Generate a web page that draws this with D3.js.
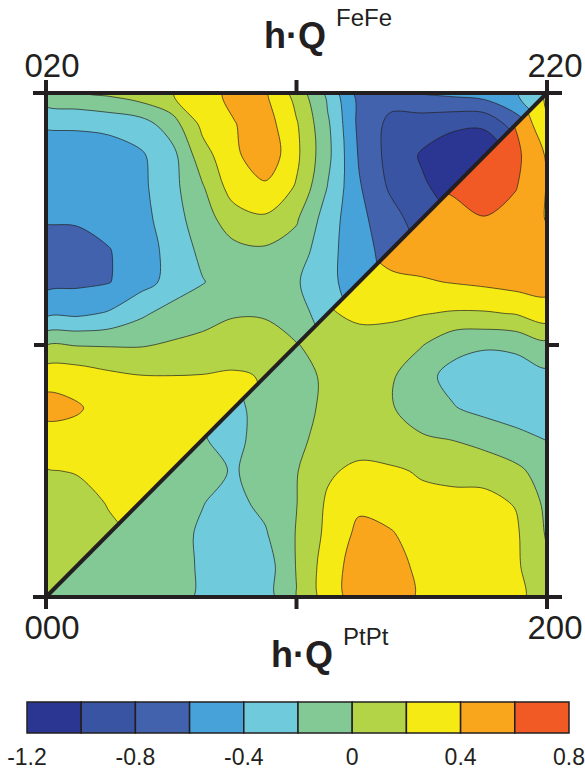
<!DOCTYPE html>
<html>
<head>
<meta charset="utf-8">
<script src="https://cdn.jsdelivr.net/npm/d3@7"></script>
<style>
  body { margin: 0; background: #fff; }
  svg { display: block; font-family: "Liberation Sans", Arial, sans-serif; }
</style>
</head>
<body>
<svg id="chart" width="585" height="772"></svg>
<script>
// contour levels, each band is [level, level + 0.2)
var levels = [-1.2, -1.0, -0.8, -0.6, -0.4, -0.2, 0, 0.2, 0.4, 0.6];
var bandColors = ["#2b3592", "#3a54a4", "#4262ae", "#48a2da", "#6fcbdc",
                  "#82c996", "#b3d446", "#f6ea14", "#faa61c", "#f15a24"];
var scaleTicks = [-1.2, -0.8, -0.4, 0, 0.4, 0.8];
var topLabels = ["020", "220"];
var bottomLabels = ["000", "200"];

// 17 x 17 grids, row 0 = top edge, column 0 = left edge.
// upper-left triangle shows FeFe, lower-right triangle shows PtPt
var feFeGrid = [
  [-0.06, -0.02, 0.04, 0.12, 0.19, 0.32, 0.45, 0.42, 0.12, -0.25, -0.68, -0.72, -0.59, -0.55, -0.5, -0.42, -0.15],
  [-0.38, -0.37, -0.35, -0.3, -0.1, 0.25, 0.39, 0.5, 0.22, -0.17, -0.65, -0.85, -0.92, -0.97, -0.98, -0.7, -0.45],
  [-0.5, -0.52, -0.5, -0.43, -0.28, 0.12, 0.35, 0.55, 0.24, -0.15, -0.62, -0.87, -1.02, -1.1, -1.1, -0.95, -0.6],
  [-0.52, -0.55, -0.52, -0.45, -0.27, -0.02, 0.3, 0.36, 0.18, -0.21, -0.58, -0.83, -0.97, -1.08, -1.05, -0.9, -0.65],
  [-0.58, -0.57, -0.53, -0.47, -0.3, -0.08, 0.1, 0.17, 0.02, -0.3, -0.55, -0.72, -0.9, -0.98, -0.95, -0.85, -0.65],
  [-0.7, -0.7, -0.61, -0.5, -0.34, -0.15, -0.05, -0.03, -0.08, -0.35, -0.5, -0.7, -0.82, -0.9, -0.85, -0.75, -0.62],
  [-0.66, -0.64, -0.61, -0.48, -0.34, -0.21, -0.1, -0.08, -0.18, -0.35, -0.5, -0.65, -0.78, -0.79, -0.75, -0.65, -0.55],
  [-0.45, -0.44, -0.38, -0.24, -0.12, -0.08, -0.02, -0.02, -0.12, -0.3, -0.45, -0.62, -0.65, -0.65, -0.62, -0.55, -0.45],
  [-0.005, -0.01, -0.015, -0.015, 0.02, 0.06, 0.12, 0.09, 0.01, -0.22, -0.38, -0.5, -0.55, -0.55, -0.5, -0.45, -0.39],
  [0.33, 0.32, 0.25, 0.21, 0.205, 0.21, 0.22, 0.19, 0.1, -0.05, -0.21, -0.3, -0.35, -0.35, -0.3, -0.25, -0.19],
  [0.47, 0.42, 0.32, 0.28, 0.27, 0.26, 0.25, 0.19, 0.1, -0.01, -0.1, -0.19, -0.25, -0.25, -0.19, -0.15, -0.1],
  [0.3, 0.33, 0.3, 0.28, 0.27, 0.26, 0.24, 0.19, 0.12, 0.05, 0.01, -0.05, -0.1, -0.1, -0.05, 0.01, 0.01],
  [0.19, 0.21, 0.25, 0.26, 0.26, 0.25, 0.22, 0.18, 0.12, 0.08, 0.05, 0.02, 0.01, 0.01, 0.01, 0.01, 0.01],
  [0.12, 0.14, 0.21, 0.24, 0.25, 0.24, 0.19, 0.16, 0.12, 0.1, 0.08, 0.05, 0.03, 0.02, 0.02, 0.02, 0.02],
  [0.1, 0.12, 0.17, 0.22, 0.24, 0.22, 0.19, 0.16, 0.12, 0.1, 0.08, 0.05, 0.03, 0.02, 0.02, 0.02, 0.02],
  [0.08, 0.1, 0.14, 0.18, 0.21, 0.22, 0.19, 0.16, 0.12, 0.1, 0.08, 0.05, 0.03, 0.02, 0.02, 0.02, 0.02],
  [0.06, 0.08, 0.1, 0.12, 0.14, 0.15, 0.15, 0.14, 0.12, 0.1, 0.08, 0.05, 0.03, 0.02, 0.02, 0.02, 0.02]
];

var ptPtGrid = [
  [-0.1, -0.1, -0.1, -0.1, -0.05, 0.01, 0.1, 0.19, 0.3, 0.39, 0.45, 0.5, 0.55, 0.61, 0.62, 0.45, 0.14],
  [-0.1, -0.1, -0.1, -0.08, -0.05, 0.01, 0.08, 0.18, 0.28, 0.38, 0.45, 0.52, 0.61, 0.68, 0.72, 0.59, 0.24],
  [-0.1, -0.1, -0.1, -0.08, -0.05, 0.02, 0.1, 0.19, 0.3, 0.39, 0.48, 0.55, 0.62, 0.7, 0.7, 0.65, 0.38],
  [-0.1, -0.1, -0.1, -0.08, -0.05, 0.02, 0.1, 0.19, 0.3, 0.38, 0.45, 0.52, 0.58, 0.62, 0.7, 0.61, 0.39],
  [-0.1, -0.1, -0.1, -0.07, -0.04, 0.02, 0.1, 0.18, 0.27, 0.35, 0.42, 0.47, 0.5, 0.55, 0.59, 0.52, 0.39],
  [-0.1, -0.1, -0.1, -0.08, -0.05, 0.01, 0.08, 0.15, 0.22, 0.3, 0.38, 0.45, 0.5, 0.52, 0.52, 0.5, 0.47],
  [-0.1, -0.1, -0.1, -0.09, -0.07, -0.03, 0.02, 0.08, 0.14, 0.24, 0.32, 0.37, 0.38, 0.41, 0.44, 0.48, 0.47],
  [-0.1, -0.1, -0.1, -0.1, -0.1, -0.08, -0.04, -0.01, 0.08, 0.18, 0.24, 0.24, 0.21, 0.18, 0.18, 0.21, 0.32],
  [-0.1, -0.1, -0.1, -0.1, -0.12, -0.12, -0.1, -0.06, -0.01, 0.08, 0.12, 0.1, 0.01, -0.15, -0.18, -0.16, -0.06],
  [-0.1, -0.1, -0.1, -0.1, -0.12, -0.15, -0.18, -0.1, -0.06, 0.03, 0.1, 0.03, -0.15, -0.25, -0.3, -0.3, -0.25],
  [-0.1, -0.1, -0.1, -0.12, -0.15, -0.21, -0.25, -0.12, -0.05, 0.03, 0.08, 0.02, -0.12, -0.19, -0.25, -0.28, -0.27],
  [-0.1, -0.1, -0.1, -0.12, -0.14, -0.19, -0.25, -0.12, -0.03, 0.05, 0.1, 0.07, 0.03, -0.005, -0.08, -0.15, -0.205],
  [-0.08, -0.1, -0.1, -0.1, -0.1, -0.12, -0.22, -0.1, -0.01, 0.17, 0.25, 0.23, 0.18, 0.15, 0.15, 0.05, -0.1],
  [-0.08, -0.09, -0.1, -0.1, -0.12, -0.195, -0.25, -0.15, -0.005, 0.23, 0.36, 0.3, 0.25, 0.25, 0.24, 0.19, -0.05],
  [-0.08, -0.09, -0.1, -0.12, -0.15, -0.22, -0.28, -0.22, 0.01, 0.25, 0.45, 0.42, 0.3, 0.28, 0.27, 0.23, -0.02],
  [-0.08, -0.1, -0.12, -0.13, -0.14, -0.22, -0.3, -0.3, 0.01, 0.3, 0.5, 0.48, 0.35, 0.3, 0.28, 0.23, 0.04],
  [-0.08, -0.1, -0.12, -0.13, -0.15, -0.22, -0.3, -0.29, -0.005, 0.3, 0.5, 0.5, 0.37, 0.3, 0.28, 0.25, 0.1]
];

var ink = "#231f20";
var svg = d3.select("#chart");
var plot = { left: 46, right: 547, top: 93, bottom: 597 };
var n = feFeGrid.length;

// grid sample i sits at contour coordinate i + 0.5
var gx = d3.scaleLinear().domain([0.5, n - 0.5]).range([plot.left, plot.right]);
var gy = d3.scaleLinear().domain([0.5, n - 0.5]).range([plot.top, plot.bottom]);

var contourGen = d3.contours().size([n, n]).thresholds(levels);

var ringLine = d3.line()
    .x(function(p) { return gx(p[0]); })
    .y(function(p) { return gy(p[1]); })
    .curve(d3.curveCatmullRomClosed.alpha(0.5));

function contourPath(geom) {
    var d = "";
    geom.coordinates.forEach(function(poly) {
        poly.forEach(function(ring) {
            d += ringLine(ring.slice(0, -1));
        });
    });
    return d;
}

var defs = svg.append("defs");
defs.append("clipPath").attr("id", "clip-fefe")
    .append("path")
    .attr("d", "M" + plot.left + "," + plot.top + "L" + plot.right + "," + plot.top +
               "L" + plot.left + "," + plot.bottom + "Z");
defs.append("clipPath").attr("id", "clip-ptpt")
    .append("path")
    .attr("d", "M" + plot.right + "," + plot.top + "L" + plot.right + "," + plot.bottom +
               "L" + plot.left + "," + plot.bottom + "Z");

function drawField(grid, clipId) {
    var values = [];
    grid.forEach(function(row) { values = values.concat(row); });
    svg.append("g")
        .attr("clip-path", "url(#" + clipId + ")")
        .selectAll("path")
        .data(contourGen(values))
        .enter().append("path")
        .attr("d", contourPath)
        .attr("fill", function(c) { return bandColors[levels.indexOf(c.value)]; })
        .attr("stroke", ink)
        .attr("stroke-width", 0.7)
        .attr("stroke-linejoin", "round");
}

drawField(feFeGrid, "clip-fefe");
drawField(ptPtGrid, "clip-ptpt");

// frame, diagonal and ticks
var frame = svg.append("g").attr("stroke", ink).attr("stroke-width", 4).attr("fill", "none");
var midX = (plot.left + plot.right) / 2, midY = (plot.top + plot.bottom) / 2;
var frameLines = [
    [33, plot.top, 562, plot.top],
    [33, plot.bottom, 562, plot.bottom],
    [plot.left, 80, plot.left, 609],
    [plot.right, 80, plot.right, 609],
    [midX, 80, midX, plot.top],
    [midX, plot.bottom, midX, 609],
    [34, midY, plot.left, midY],
    [plot.right, midY, 559, midY],
    [plot.left, plot.bottom, plot.right, plot.top]
];
frame.selectAll("line").data(frameLines).enter().append("line")
    .attr("x1", function(d) { return d[0]; })
    .attr("y1", function(d) { return d[1]; })
    .attr("x2", function(d) { return d[2]; })
    .attr("y2", function(d) { return d[3]; });

// corner labels
var cornerX = [52, 555];
svg.selectAll("text.top").data(topLabels).enter().append("text")
    .attr("class", "top")
    .attr("x", function(d, i) { return cornerX[i]; })
    .attr("y", 77)
    .attr("text-anchor", "middle")
    .attr("font-size", 33)
    .attr("fill", ink)
    .text(function(d) { return d; });
svg.selectAll("text.bottom").data(bottomLabels).enter().append("text")
    .attr("class", "bottom")
    .attr("x", function(d, i) { return cornerX[i]; })
    .attr("y", 639)
    .attr("text-anchor", "middle")
    .attr("font-size", 33)
    .attr("fill", ink)
    .text(function(d) { return d; });

// axis titles
function axisTitle(x, y, sup) {
    var t = svg.append("text").attr("x", x).attr("y", y).attr("fill", ink);
    t.append("tspan").attr("font-size", 36).attr("font-weight", "bold").text("h\u00b7Q");
    t.append("tspan").attr("font-size", 24).attr("dx", 10).attr("dy", -22).text(sup);
}
axisTitle(264, 48, "FeFe");
axisTitle(271, 667, "PtPt");

// colour bar
var barX = d3.scaleLinear().domain([-1.2, 0.8]).range([27, 569]);
var bar = svg.append("g");
bar.selectAll("rect").data(levels).enter().append("rect")
    .attr("x", function(d) { return barX(d); })
    .attr("y", 702)
    .attr("width", function(d) { return barX(d + 0.2) - barX(d); })
    .attr("height", 31)
    .attr("fill", function(d, i) { return bandColors[i]; })
    .attr("stroke", ink)
    .attr("stroke-width", 1.5);
bar.selectAll("text").data(scaleTicks).enter().append("text")
    .attr("x", function(d) { return barX(d); })
    .attr("y", 765)
    .attr("text-anchor", "middle")
    .attr("font-size", 23)
    .attr("fill", ink)
    .text(function(d) { return String(d); });
</script>
</body>
</html>
